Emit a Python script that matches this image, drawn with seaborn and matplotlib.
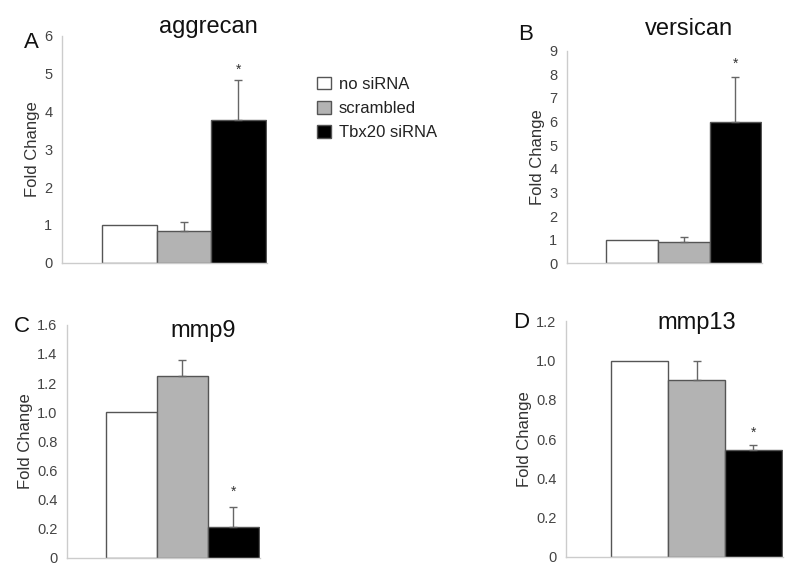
import matplotlib
matplotlib.use("Agg")
import matplotlib.pyplot as plt
import seaborn as sns
import pandas as pd
from matplotlib.patches import Patch

sns.set_style("white")
plt.rcParams['font.family'] = ['Liberation Sans', 'DejaVu Sans']

groups = ['no siRNA', 'scrambled', 'Tbx20 siRNA']
colors = ['white', '#b3b3b3', 'black']

genes = ['aggrecan', 'versican', 'mmp9', 'mmp13']
letters = ['A', 'B', 'C', 'D']

aggrecan = [1.0, 0.85, 3.76]
aggrecan_err = [0.0, 0.22, 1.08]
versican = [0.97, 0.9, 5.97]
versican_err = [0.0, 0.22, 1.93]
mmp9 = [1.0, 1.25, 0.21]
mmp9_err = [0.0, 0.11, 0.14]
mmp13 = [1.0, 0.9, 0.545]
mmp13_err = [0.0, 0.1, 0.025]

star_aggrecan = 5.1
star_versican = 8.45
star_mmp9 = 0.455
star_mmp13 = 0.63

ticks_aggrecan = [0, 1, 2, 3, 4, 5, 6]
ticks_versican = [0, 1, 2, 3, 4, 5, 6, 7, 8, 9]
ticks_mmp9 = [0, 0.2, 0.4, 0.6, 0.8, 1.0, 1.2, 1.4, 1.6]
ticks_mmp13 = [0, 0.2, 0.4, 0.6, 0.8, 1.0, 1.2]
labels_mmp9 = ['0', '0.2', '0.4', '0.6', '0.8', '1.0', '1.2', '1.4', '1.6']
labels_mmp13 = ['0', '0.2', '0.4', '0.6', '0.8', '1.0', '1.2']

panels = [
    (aggrecan, aggrecan_err, star_aggrecan, ticks_aggrecan, [str(t) for t in ticks_aggrecan]),
    (versican, versican_err, star_versican, ticks_versican, [str(t) for t in ticks_versican]),
    (mmp9, mmp9_err, star_mmp9, ticks_mmp9, labels_mmp9),
    (mmp13, mmp13_err, star_mmp13, ticks_mmp13, labels_mmp13),
]

# axes rectangles in figure fraction (left, bottom, width, height)
rects = [
    [0.0775, 0.543, 0.256, 0.395],
    [0.709, 0.542, 0.244, 0.370],
    [0.084, 0.030, 0.241, 0.405],
    [0.7075, 0.032, 0.271, 0.409],
]
title_pos = [(208, 27), (689, 29), (203, 331), (697, 323)]
letter_pos = [(31, 42), (526, 34), (22, 327), (521, 323)]
left_gap = [0.74, 0.75, 0.75, 0.8]

fig = plt.figure(figsize=(8, 5.75), dpi=100)

for i, (vals, errs, star, ticks, tlabels) in enumerate(panels):
    ax = fig.add_axes(rects[i])
    df = pd.DataFrame({'group': groups, 'value': vals})
    sns.barplot(data=df, x='group', y='value', hue='group', palette=colors,
                width=1.0, edgecolor='#555555', linewidth=1.0, legend=False, ax=ax)
    for j in range(3):
        if errs[j] > 0:
            ax.errorbar(j, vals[j], yerr=[[0], [errs[j]]], fmt='none',
                        ecolor='#666666', elinewidth=1.0, capsize=3, capthick=1.0)
    ax.text(2, star, '*', ha='center', va='center', fontsize=10, color='#333333')
    ax.set_xlim(-0.5 - left_gap[i], 2.52)
    ax.set_ylim(ticks[0], ticks[-1])
    ax.set_yticks(ticks)
    ax.set_yticklabels(tlabels)
    ax.set_xticks([])
    ax.set_xlabel('')
    ax.set_ylabel('Fold Change', fontsize=12, color='#333333', labelpad=3)
    ax.tick_params(axis='y', length=2, color='#cccccc', labelsize=10.5, labelcolor='#444444', pad=5)
    for s in ['top', 'right']:
        ax.spines[s].set_visible(False)
    for s in ['left', 'bottom']:
        ax.spines[s].set_color('#cccccc')
        ax.spines[s].set_linewidth(1.0)
    fig.text(title_pos[i][0] / 800, 1 - title_pos[i][1] / 575, genes[i],
             ha='center', va='center', fontsize=17, color='#111111')
    fig.text(letter_pos[i][0] / 800, 1 - letter_pos[i][1] / 575, letters[i],
             ha='center', va='center', fontsize=16, color='#111111')

handles = [Patch(facecolor=c, edgecolor='#555555', label=g) for c, g in zip(colors, groups)]
fig.legend(handles=handles, loc='upper left', bbox_to_anchor=(0.378, 0.893),
           frameon=False, fontsize=12, handlelength=0.8, handleheight=0.8,
           handletextpad=0.5, labelspacing=0.55, labelcolor='#222222')

fig.savefig('out.png', dpi=100)
